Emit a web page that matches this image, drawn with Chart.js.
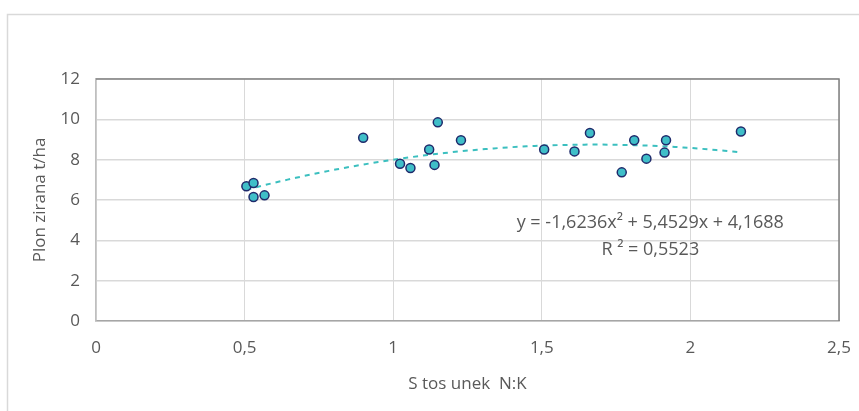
<!DOCTYPE html>
<html>
<head>
<meta charset="utf-8">
<script src="https://cdn.jsdelivr.net/npm/chart.js@4/dist/chart.umd.min.js"></script>
<style>
  html, body { margin: 0; padding: 0; background: #fff; overflow: hidden; }
  #wrap { width: 859px; height: 411px; }
</style>
</head>
<body>
<div id="wrap"><canvas id="plonChart" width="859" height="411"></canvas></div>
<script>
'use strict';

// stosunek N:K vs plon
var stosunekNK = [0.506, 0.530, 0.530, 0.567, 0.899, 1.023, 1.058, 1.121, 1.139, 1.150,
                  1.228, 1.508, 1.610, 1.662, 1.769, 1.811, 1.852, 1.913, 1.918, 2.170];
var plon       = [6.68, 6.84, 6.15, 6.23, 9.09, 7.80, 7.59, 8.50, 7.74, 9.85,
                  8.96, 8.50, 8.41, 9.32, 7.37, 8.96, 8.05, 8.35, 8.96, 9.40];

// wielomian 2 stopnia (a, b, c) i R2
var trendCoef = [-1.6236, 5.4529, 4.1688];
var trendR2 = 0.5523;

var xTicks = [0, 0.5, 1, 1.5, 2, 2.5];
var yTicks = [0, 2, 4, 6, 8, 10, 12];

var fontFamily = "'Open Sans', 'Noto Sans', sans-serif";
var textColor = '#595959';

function fmt(v) {
    return String(v).replace('.', ',');
}

var points = stosunekNK.map(function (x, i) { return {x: x, y: plon[i]}; });

// linia trendu od min do max x
var xMin = Math.min.apply(null, stosunekNK);
var xMax = Math.max.apply(null, stosunekNK);
var trend = [];
for (var k = 0; k <= 60; k++) {
    var tx = xMin + (xMax - xMin) * k / 60;
    trend.push({x: tx, y: trendCoef[0] * tx * tx + trendCoef[1] * tx + trendCoef[2]});
}

// ramka wykresu + ramka obszaru
var framePlugin = {
    id: 'frame',
    beforeDraw: function (chart) {
        var c = chart.ctx;
        c.save();
        c.fillStyle = '#ffffff';
        c.fillRect(0, 0, chart.width, chart.height);
        c.strokeStyle = '#d9d9d9';
        c.lineWidth = 1.5;
        c.strokeRect(7.5, 14.5, chart.width + 20, chart.height + 20);
        c.restore();
    },
    beforeDatasetsDraw: function (chart) {
        var a = chart.chartArea, c = chart.ctx;
        c.save();
        c.strokeStyle = '#808080';
        c.lineWidth = 1.5;
        c.beginPath();
        c.moveTo(a.left, a.top);
        c.lineTo(a.right, a.top);
        c.lineTo(a.right, a.bottom);
        c.stroke();
        c.restore();
    }
};

// rownanie trendu
var eqPlugin = {
    id: 'equation',
    afterDatasetsDraw: function (chart) {
        var sx = chart.scales.x, sy = chart.scales.y, c = chart.ctx;
        var eq = 'y = ' + fmt(trendCoef[0]) + 'x² + ' + fmt(trendCoef[1]) + 'x + ' + fmt(trendCoef[2]);
        var r2 = 'R ² = ' + fmt(trendR2);
        c.save();
        c.font = '18px ' + fontFamily;
        c.fillStyle = textColor;
        c.textAlign = 'center';
        c.textBaseline = 'middle';
        c.fillText(eq, sx.getPixelForValue(1.865), sy.getPixelForValue(4.86));
        c.fillText(r2, sx.getPixelForValue(1.865), sy.getPixelForValue(3.55));
        c.restore();
    }
};

var ctx = document.getElementById('plonChart').getContext('2d');
var chart = new Chart(ctx, {
    type: 'scatter',
    data: {
        datasets: [{
            label: 'Plon',
            data: points,
            backgroundColor: '#3fbec8',
            borderColor: '#1f2a6b',
            borderWidth: 1.5,
            pointRadius: 4.5
        }, {
            type: 'line',
            label: 'Trend',
            data: trend,
            borderColor: '#3bbfbf',
            borderWidth: 2,
            borderDash: [5, 5],
            pointRadius: 0,
            fill: false,
            tension: 0
        }]
    },
    options: {
        responsive: false,
        animation: false,
        events: [],
        layout: {padding: {top: 79, right: 20, bottom: 0, left: 0}},
        plugins: {legend: {display: false}, tooltip: {enabled: false}},
        scales: {
            x: {
                type: 'linear',
                min: 0,
                max: 2.5,
                afterBuildTicks: function (s) { s.ticks = xTicks.map(function (v) { return {value: v}; }); },
                afterFit: function (s) { s.height = 90; s.paddingLeft = 0; s.paddingRight = 0; },
                grid: {color: '#d9d9d9', lineWidth: 1, drawTicks: false},
                border: {color: '#a6a6a6', width: 1.5},
                ticks: {
                    padding: 17,
                    color: textColor,
                    font: {family: fontFamily, size: 17},
                    callback: function (v) { return fmt(v); }
                },
                title: {
                    display: true,
                    text: 'S tos unek  N:K',
                    color: textColor,
                    font: {family: fontFamily, size: 17},
                    padding: {top: 0, bottom: 17}
                }
            },
            y: {
                min: 0,
                max: 12,
                afterBuildTicks: function (s) { s.ticks = yTicks.map(function (v) { return {value: v}; }); },
                afterFit: function (s) { s.width = 96; s.paddingTop = 0; s.paddingBottom = 0; },
                grid: {color: '#d9d9d9', lineWidth: 1.5, drawTicks: false},
                border: {color: '#bfbfbf', width: 1.5},
                ticks: {
                    padding: 16,
                    color: textColor,
                    font: {family: fontFamily, size: 17},
                    callback: function (v) { return fmt(v); }
                },
                title: {
                    display: true,
                    text: 'Plon zirana t/ha',
                    color: textColor,
                    font: {family: fontFamily, size: 17},
                    padding: {top: 30, bottom: 0}
                }
            }
        }
    },
    plugins: [framePlugin, eqPlugin]
});
</script>
</body>
</html>
